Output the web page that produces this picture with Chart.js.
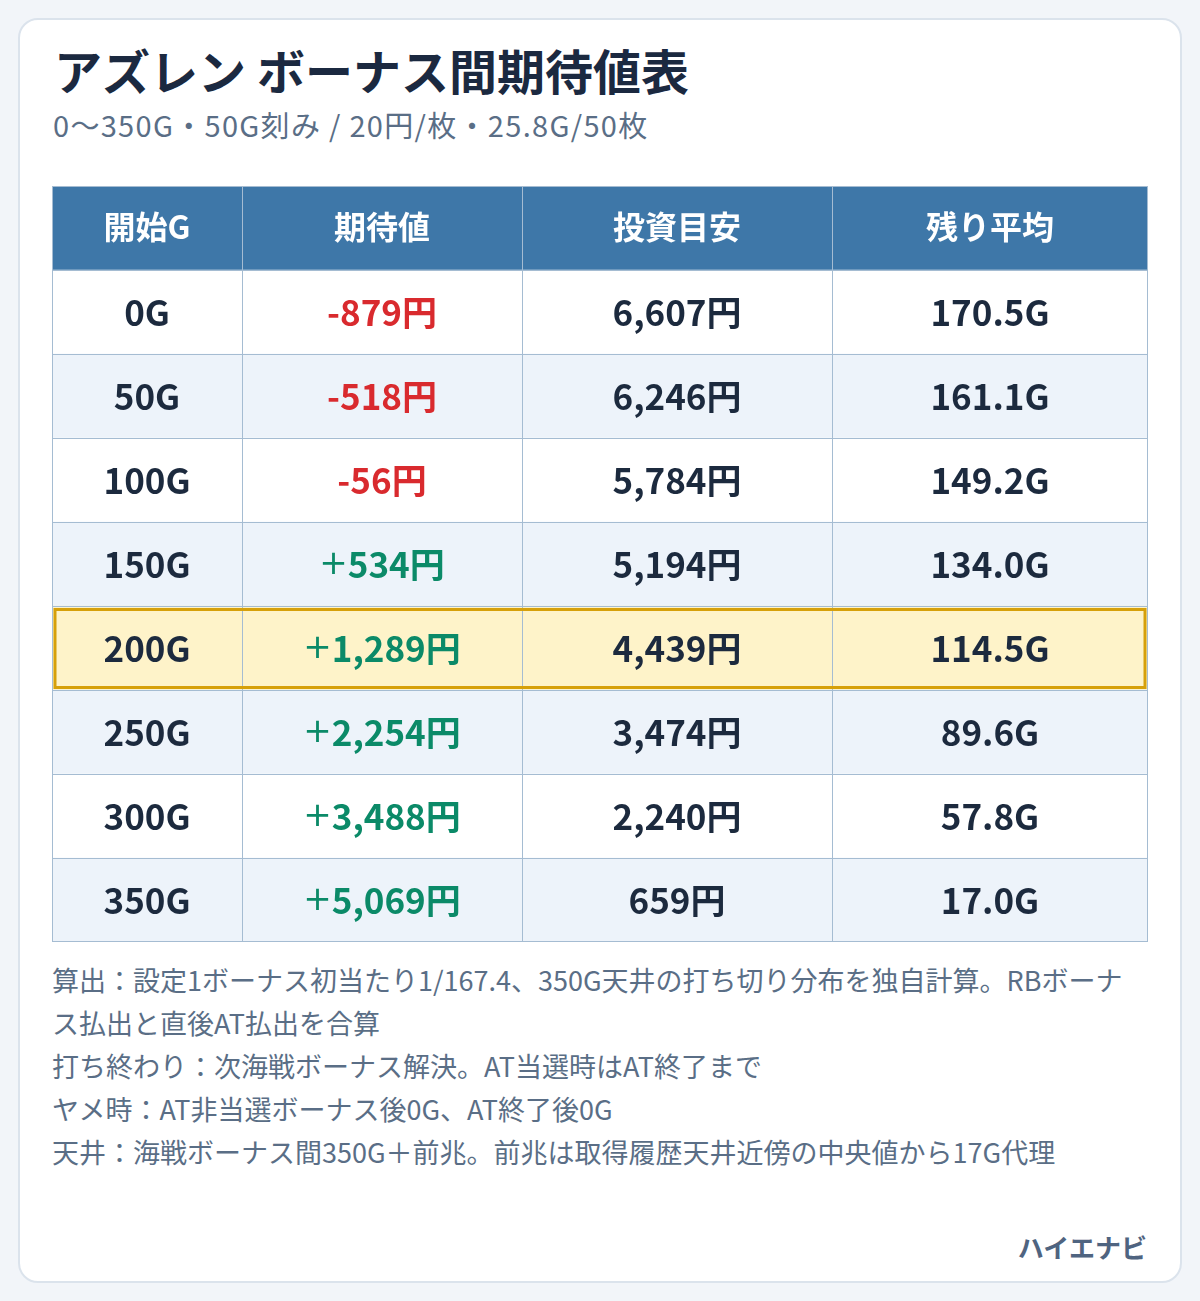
<!DOCTYPE html>
<html lang="ja">
<head>
<meta charset="utf-8">
<script src="https://cdn.jsdelivr.net/npm/chart.js@4.4.1/dist/chart.umd.min.js"></script>
<style>
  body {
    margin: 0;
    width: 1200px;
    height: 1301px;
    background: #f2f5f9;
    font-family: "Noto Sans CJK JP", "Noto Sans", sans-serif;
    position: relative;
  }
  .card {
    position: absolute;
    left: 18px;
    top: 18px;
    width: 1160px;
    height: 1261px;
    background: #fff;
    border: 2px solid #dbe3ec;
    border-radius: 20px;
  }
  .title {
    position: absolute;
    left: 54px;
    top: 41px;
    font-size: 48px;
    line-height: 56px;
    font-weight: 700;
    color: #1b2940;
    white-space: nowrap;
  }
  .subtitle {
    position: absolute;
    left: 53px;
    top: 104px;
    font-size: 29px;
    line-height: 40px;
    letter-spacing: 0.045em;
    color: #5a6e86;
    white-space: nowrap;
  }
  #table {
    position: absolute;
    left: 52px;
    top: 186px;
  }
  .notes {
    position: absolute;
    left: 52px;
    top: 958px;
    width: 1096px;
    font-size: 27px;
    line-height: 43px;
    color: #5a6e86;
  }
  .brand {
    position: absolute;
    right: 53px;
    top: 1229px;
    font-size: 26px;
    line-height: 36px;
    font-weight: 700;
    color: #4f6480;
  }
</style>
</head>
<body>
<div class="card"></div>
<div class="title">アズレン ボーナス間期待値表</div>
<div class="subtitle">0〜350G・50G刻み / 20円/枚・25.8G/50枚</div>
<canvas id="table" width="1096" height="756"></canvas>
<div class="notes">
  <div>算出：設定1ボーナス初当たり1/167.4、350G天井の打ち切り分布を独自計算。RBボーナス払出と直後AT払出を合算</div>
  <div>打ち終わり：次海戦ボーナス解決。AT当選時はAT終了まで</div>
  <div>ヤメ時：AT非当選ボーナス後0G、AT終了後0G</div>
  <div>天井：海戦ボーナス間350G＋前兆。前兆は取得履歴天井近傍の中央値から17G代理</div>
</div>
<div class="brand">ハイエナビ</div>

<script>
// Table data
const headers = ["開始G", "期待値", "投資目安", "残り平均"];
const startGames = [0, 50, 100, 150, 200, 250, 300, 350];
const expectedYen = [-879, -518, -56, 534, 1289, 2254, 3488, 5069];
const investYen = [6607, 6246, 5784, 5194, 4439, 3474, 2240, 659];
const remainGames = [170.5, 161.1, 149.2, 134.0, 114.5, 89.6, 57.8, 17.0];
const highlightStart = 200;

// Layout
const columnWidths = [190, 280, 310, 316];
const rowLabels = ["header"].concat(startGames.map((g) => g + "G"));

const headerBg = "#3e77a8";
const altBg = "#edf3fa";
const highlightBg = "#fef3c9";
const highlightBorder = "#d6a00a";
const gridColor = "#a5bcd2";
const textDark = "#1c2a3e";
const textRed = "#d92a2e";
const textGreen = "#0b8a68";

const boldFont = '700 35px "Noto Sans CJK JP"';
const headFont = '700 32px "Noto Sans CJK JP"';
const signFont = '400 34px "DejaVu Sans"';

function cellText(row, col) {
  if (row === 0) return headers[col];
  const i = row - 1;
  if (col === 0) return startGames[i] + "G";
  if (col === 1) {
    const v = expectedYen[i];
    return (v < 0 ? "-" : "") + Math.abs(v).toLocaleString("en-US") + "円";
  }
  if (col === 2) return investYen[i].toLocaleString("en-US") + "円";
  return remainGames[i].toFixed(1) + "G";
}

function cellColor(row, col) {
  if (row === 0) return "#ffffff";
  if (col === 1) return expectedYen[row - 1] < 0 ? textRed : textGreen;
  return textDark;
}

function rowBg(row) {
  if (row === 0) return headerBg;
  if (startGames[row - 1] === highlightStart) return highlightBg;
  return row % 2 === 0 ? altBg : "#ffffff";
}

// Draw cell text, grid lines and the highlighted row frame
const tablePlugin = {
  id: "tableText",
  afterDatasetsDraw(chart) {
    const ctx = chart.ctx;
    const xs = chart.scales.x;
    const ys = chart.scales.y;
    const rowH = ys.height / rowLabels.length;

    ctx.save();
    ctx.textBaseline = "middle";
    chart.data.datasets.forEach((ds, col) => {
      chart.getDatasetMeta(col).data.forEach((bar, row) => {
        const cx = (bar.x + bar.base) / 2;
        const text = cellText(row, col);
        ctx.fillStyle = cellColor(row, col);
        if (row === 0) {
          ctx.font = headFont;
          ctx.textAlign = "center";
          ctx.fillText(text, cx, bar.y - 1);
          return;
        }
        const plus = col === 1 && expectedYen[row - 1] >= 0;
        if (!plus) {
          ctx.font = boldFont;
          ctx.textAlign = "center";
          ctx.fillText(text, cx, bar.y + 1);
          return;
        }
        // thin plus sign in front of the bold number
        ctx.font = signFont;
        const sw = ctx.measureText("+").width;
        ctx.font = boldFont;
        const tw = ctx.measureText(text).width;
        const left = cx - (sw + tw) / 2;
        ctx.textAlign = "left";
        ctx.font = signFont;
        ctx.fillText("+", left, bar.y + 1);
        ctx.font = boldFont;
        ctx.fillText(text, left + sw, bar.y + 1);
      });
    });

    // grid
    ctx.strokeStyle = gridColor;
    ctx.lineWidth = 1;
    ctx.beginPath();
    let acc = 0;
    for (let c = 0; c <= columnWidths.length; c++) {
      let px = Math.round(xs.getPixelForValue(acc));
      px = Math.min(Math.max(px, 0), chart.width - 1) + 0.5;
      ctx.moveTo(px, 0);
      ctx.lineTo(px, chart.height);
      if (c < columnWidths.length) acc += columnWidths[c];
    }
    for (let r = 0; r <= rowLabels.length; r++) {
      let py = Math.round(ys.getPixelForValue(r) - rowH / 2);
      py = Math.min(Math.max(py, 0), chart.height - 1) + 0.5;
      ctx.moveTo(0, py);
      ctx.lineTo(chart.width, py);
    }
    ctx.stroke();

    // highlighted row
    const hr = startGames.indexOf(highlightStart) + 1;
    const top = ys.getPixelForValue(hr) - rowH / 2;
    ctx.strokeStyle = highlightBorder;
    ctx.lineWidth = 3;
    ctx.strokeRect(
      xs.getPixelForValue(0) + 3,
      top + 3.5,
      xs.getPixelForValue(acc) - xs.getPixelForValue(0) - 6,
      rowH - 6
    );
    ctx.restore();
  },
};

const datasets = headers.map((h, col) => ({
  label: h,
  data: rowLabels.map(() => columnWidths[col]),
  backgroundColor: (c) => rowBg(c.dataIndex),
  borderWidth: 0,
  barPercentage: 1,
  categoryPercentage: 1,
}));

new Chart(document.getElementById("table"), {
  type: "bar",
  data: {
    labels: rowLabels,
    datasets: datasets,
  },
  options: {
    indexAxis: "y",
    responsive: false,
    animation: false,
    layout: { padding: 0 },
    scales: {
      x: {
        display: false,
        stacked: true,
        min: 0,
        max: columnWidths.reduce((a, b) => a + b, 0),
      },
      y: {
        display: false,
        stacked: true,
      },
    },
    plugins: {
      legend: { display: false },
      tooltip: { enabled: false },
    },
  },
  plugins: [tablePlugin],
});
</script>
</body>
</html>
